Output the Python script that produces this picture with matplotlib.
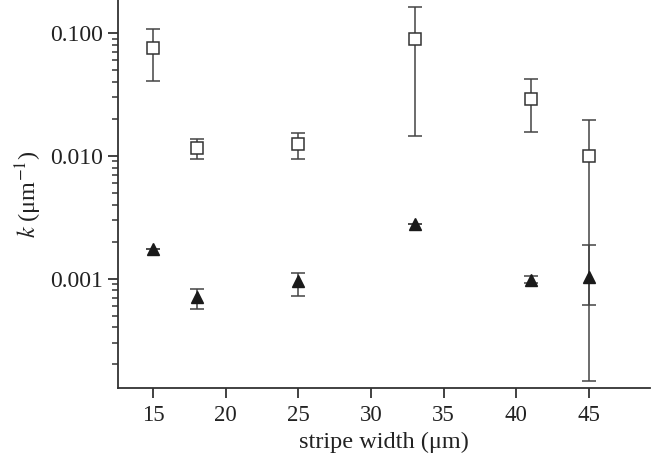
import numpy as np
import matplotlib.pyplot as plt
from matplotlib.ticker import FuncFormatter, LogLocator

plt.rcParams['font.family'] = ['Liberation Serif', 'DejaVu Serif']
plt.rcParams['mathtext.fontset'] = 'stix'

# Stripe widths (um)
width = [15, 18, 25, 33, 41, 45]

# Open squares: value, lower and upper error-bar ends
sq_k = [0.0754, 0.0116, 0.0125, 0.0893, 0.0288, 0.0100]
sq_lo = [0.0405, 0.00945, 0.0095, 0.0146, 0.0157, 0.000146]
sq_hi = [0.108, 0.0138, 0.0154, 0.163, 0.042, 0.0197]

# Filled triangles (errors at 15 and 33 are hidden by the marker)
tr_k = [0.00173, 0.00071, 0.00095, 0.00277, 0.00098, 0.00103]
tr_lo = [0.00173, 0.00057, 0.00072, 0.00277, 0.00092, 0.000612]
tr_hi = [0.00173, 0.00083, 0.00110, 0.00277, 0.00104, 0.00186]

fig = plt.figure(figsize=(6.52, 4.54), dpi=100)
ax = fig.add_axes([0.181, 0.145, 0.816, 0.855])

sq_k_arr = np.array(sq_k)
sq_err = [sq_k_arr - np.array(sq_lo), np.array(sq_hi) - sq_k_arr]
tr_k_arr = np.array(tr_k)
tr_err = [tr_k_arr - np.array(tr_lo), np.array(tr_hi) - tr_k_arr]

ax.errorbar(width, sq_k, yerr=sq_err, fmt='s', ms=8, mfc='white', mec='#333333',
            mew=1.1, ecolor='#444444', elinewidth=1.1, capsize=5, capthick=1.1)
ax.errorbar(width, tr_k, yerr=tr_err, fmt='^', ms=9, mfc='#1a1a1a', mec='#1a1a1a',
            ecolor='#444444', elinewidth=1.1, capsize=5, capthick=1.1)

ax.set_yscale('log')
ax.set_ylim(0.000128, 0.186)
ax.set_xlim(12.6, 49.2)
ax.set_xticks([15, 20, 25, 30, 35, 40, 45])
ax.yaxis.set_major_locator(LogLocator(base=10, numticks=10))
ax.yaxis.set_minor_locator(LogLocator(base=10, subs=np.arange(2, 10), numticks=10))
ax.yaxis.set_major_formatter(FuncFormatter(lambda v, p: '%.3f' % v))
ax.yaxis.set_minor_formatter(FuncFormatter(lambda v, p: ''))

for s in ['top', 'right']:
    ax.spines[s].set_visible(False)
for s in ['left', 'bottom']:
    ax.spines[s].set_linewidth(1.3)
    ax.spines[s].set_color('#333333')

ax.tick_params(which='major', direction='out', length=7, width=1.3, color='#333333',
               labelcolor='#222222')
ax.tick_params(axis='x', labelsize=16.5, pad=5)
ax.tick_params(axis='y', labelsize=17)
ax.tick_params(which='minor', direction='out', length=4, width=1.1, color='#333333')

ax.set_xlabel('stripe width (μm)', fontsize=17.5, color='#222222', labelpad=4)
ax.set_ylabel(r'$k$ (μm$^{-1}$)', fontsize=17.5, color='#222222', labelpad=5)

plt.savefig('out.png', dpi=100)
